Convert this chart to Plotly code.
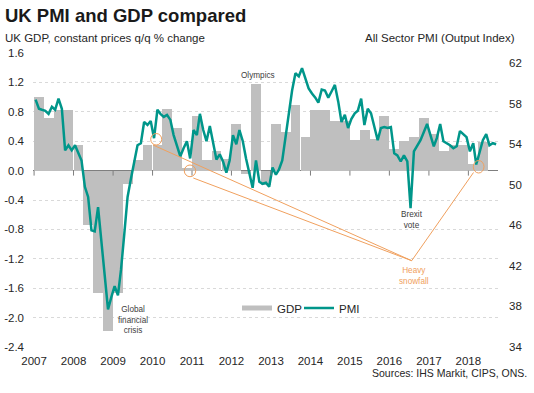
import plotly.graph_objects as go
import pandas as pd

# ---------------- data ----------------
years = list(range(2007, 2019))
gdp_quarters = pd.date_range("2007-01-01", periods=46, freq="QS")
gdp_values = [
    1.0, 0.72, 0.83, 0.83,        # 2007
    0.35, -0.74, -1.66, -2.18,    # 2008
    -1.66, -0.18, 0.14, 0.35,     # 2009
    0.35, 0.84, 0.58, 0.03,       # 2010
    0.74, 0.14, 0.26, 0.16,       # 2011
    0.63, -0.05, 1.18, -0.2,      # 2012
    0.63, 0.53, 0.89, 0.46,       # 2013
    0.83, 0.83, 0.68, 0.68,       # 2014
    0.42, 0.55, 0.43, 0.74,       # 2015
    0.3, 0.4, 0.46, 0.72,         # 2016
    0.5, 0.26, 0.35, 0.35,        # 2017
    0.09, 0.39,                   # 2018
]
pmi_months = pd.date_range("2007-01-01", periods=141, freq="MS") + pd.Timedelta(days=14)
pmi_values = [
    58.4, 57.5, 57.4, 57.3, 57.0, 57.7, 57.4, 58.5, 57.5, 53.4, 53.9, 53.4,   # 2007
    53.9, 53.1, 52.4, 49.8, 48.8, 45.5, 45.4, 47.8, 44.2, 41.3, 37.7, 38.9,   # 2008
    40.0, 39.1, 41.6, 45.2, 48.8, 50.6, 52.4, 53.9, 54.1, 56.2, 55.9, 56.3,   # 2009
    54.6, 57.4, 57.0, 56.7, 56.9, 56.4, 54.9, 53.9, 52.8, 53.6, 54.3, 52.6,   # 2010
    55.4, 54.9, 57.0, 55.4, 54.3, 55.8, 54.0, 52.5, 53.0, 52.3, 51.2, 52.4,   # 2011
    54.9, 54.0, 55.4, 54.3, 52.6, 51.0, 49.7, 52.4, 50.3, 50.1, 50.2, 49.8,   # 2012
    51.7, 51.0, 51.5, 52.4, 54.6, 56.8, 59.3, 61.0, 60.7, 61.5, 60.5, 59.5,   # 2013
    59.0, 58.6, 58.1, 59.4, 59.3, 58.6, 59.2, 59.85, 58.2, 56.2, 56.9, 55.6,  # 2014
    56.5, 57.05, 57.3, 58.5, 55.9, 57.5, 57.05, 55.7, 54.4, 55.6, 55.7, 55.6, # 2015
    55.7, 53.1, 52.9, 52.3, 52.9, 52.3, 47.7, 53.3, 53.8, 54.4, 55.2, 56.0,   # 2016
    54.9, 53.8, 54.6, 56.0, 54.3, 54.1, 53.9, 53.6, 53.8, 55.3, 55.0, 54.7,   # 2017
    53.3, 54.1, 52.0, 53.3, 54.4, 55.0, 53.9, 54.1, 54.0,                     # 2018
]
left_ticks = [1.6, 1.2, 0.8, 0.4, 0.0, -0.4, -0.8, -1.2, -1.6, -2.0, -2.4]
right_ticks = [62, 58, 54, 50, 46, 42, 38, 34]

# ---------------- style ----------------
TEAL = "#00968A"
GREY = "#BFBFBF"
ORANGE = "#F0A05E"
TXT = "#262626"
FONT = "Arial, Liberation Sans, sans-serif"

FIG_W, FIG_H = 534, 393
# plot area in window pixels
L, R, T, B = 33, 498, 53, 347
W, H = R - L, B - T


def px(x):
    return (x - L) / W


def py(y):
    return (B - y) / H


fig = go.Figure()
fig.add_trace(go.Bar(
    x=gdp_quarters, y=gdp_values, offset=0, width=91.3 * 24 * 3600 * 1000,
    marker=dict(color=GREY, line=dict(width=0)), name="GDP", showlegend=False,
    yaxis="y"))
fig.add_trace(go.Scatter(
    x=[None], y=[None], mode="lines", line=dict(color=GREY, width=5), name="GDP",
    legend="legend"))
fig.add_trace(go.Scatter(
    x=pmi_months, y=pmi_values, mode="lines", line=dict(color=TEAL, width=2.5),
    name="PMI", yaxis="y2", legend="legend2"))

shapes = []
# year tick marks hanging below the zero line
for yr in years:
    shapes.append(dict(type="line", xref="x", yref="y", x0=f"{yr}-01-01", x1=f"{yr}-01-01",
                       y0=0, y1=-0.068, line=dict(color="#7F7F7F", width=1)))
# snowfall circles and connector lines
for (cx0, cx1, cy0, cy1) in [(150.7, 161.7, 133.5, 145), (184.3, 195.7, 165, 176.7),
                             (473.3, 484.0, 160.5, 173.0)]:
    shapes.append(dict(type="circle", xref="paper", yref="paper",
                       x0=px(cx0), x1=px(cx1), y0=py(cy1), y1=py(cy0),
                       line=dict(color=ORANGE, width=1)))
for (x0, y0) in [(153, 145), (193.3, 178), (473.5, 172.5)]:
    shapes.append(dict(type="line", xref="paper", yref="paper",
                       x0=px(x0), y0=py(y0), x1=px(411.7), y1=py(260.7),
                       line=dict(color=ORANGE, width=1)))

ann = []


def add_text(text, x, y, size, color=TXT, xanchor="center", bold=False):
    ann.append(dict(text=f"<b>{text}</b>" if bold else text, xref="paper", yref="paper",
                    x=px(x), y=py(y), xanchor=xanchor, yanchor="middle", showarrow=False,
                    borderpad=0, font=dict(family=FONT, size=size, color=color)))


add_text("UK PMI and GDP compared", 4, 15, 18.5, "#1A1A1A", "left", bold=True)
add_text("UK GDP, constant prices q/q % change", 4, 37.5, 11.5, TXT, "left")
add_text("All Sector PMI (Output Index)", 516, 37.5, 11.5, TXT, "right")
add_text("Sources: IHS Markit, CIPS, ONS.", 528, 372.5, 10.5, TXT, "right")
add_text("Olympics", 257.5, 75.5, 8.2, "#404040")
add_text("Global<br>financial<br>crisis", 133, 319.5, 8.2, "#404040")
add_text("Brexit<br>vote", 412, 219.7, 8.2, "#404040")
add_text("Heavy<br>snowfall", 413.5, 276.2, 8.2, ORANGE)

legend_common = dict(orientation="h", xanchor="left", yanchor="middle",
                     bgcolor="rgba(0,0,0,0)", font=dict(size=11.5, color=TXT), itemwidth=30)

fig.update_layout(
    width=FIG_W, height=FIG_H,
    margin=dict(l=L, r=FIG_W - R, t=T, b=FIG_H - B, pad=0),
    paper_bgcolor="white", plot_bgcolor="white",
    font=dict(family=FONT, size=11.5, color=TXT),
    bargap=0, showlegend=True,
    legend=dict(x=px(237), y=py(308), **legend_common),
    legend2=dict(x=px(299), y=py(308), **legend_common),
    xaxis=dict(type="date", range=["2006-12-22", "2018-10-02"],
               tickvals=[f"{yr}-01-01" for yr in years], ticktext=[str(yr) for yr in years],
               showgrid=False, zeroline=False, showline=False, ticks="",
               ticklabelstandoff=5, automargin=False,
               tickfont=dict(size=11.5, color=TXT)),
    yaxis=dict(range=[-2.4, 1.6], tickvals=left_ticks,
               ticktext=[f"{v:.1f}" for v in left_ticks],
               showgrid=True, gridcolor="#D9D9D9", griddash="dot", gridwidth=1,
               zeroline=True, zerolinecolor="#7F7F7F", zerolinewidth=1,
               showline=False, ticks="", ticklabelstandoff=8, automargin=False,
               tickfont=dict(size=11.5, color=TXT)),
    yaxis2=dict(range=[34, 63], overlaying="y", side="right", tickvals=right_ticks,
                showgrid=False, zeroline=False, showline=False, ticks="",
                ticklabelstandoff=10, automargin=False,
                tickfont=dict(size=11.5, color=TXT)),
    shapes=shapes, annotations=ann,
)

# remove the browser's default 8px body margin so the 534x393 figure fills the window
fig.write_html("out.html", config={"displayModeBar": False},
               post_script="document.body.style.margin='0px';")
